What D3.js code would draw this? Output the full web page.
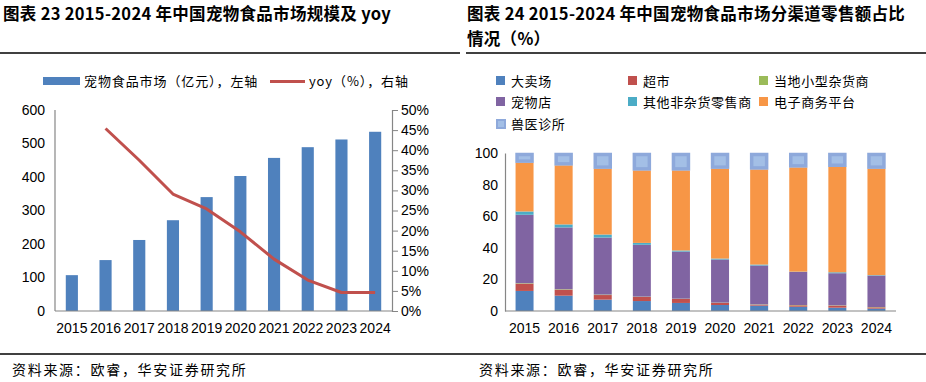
<!DOCTYPE html>
<html>
<head>
<meta charset="utf-8">
<script src="https://cdn.jsdelivr.net/npm/d3@7"></script>
<style>
  body { margin: 0; background: #fff; }
  svg { display: block; }
  .cn { font-family: "Noto Sans CJK SC", sans-serif; }
  .num { font-family: "Liberation Sans", Arial, sans-serif; }
</style>
</head>
<body>
<svg id="chart" width="926" height="382"></svg>
<script>
// ---- data ----
const years = ["2015", "2016", "2017", "2018", "2019", "2020", "2021", "2022", "2023", "2024"];
const marketSize = [107, 152, 212, 271, 340, 403, 457, 489, 512, 535];   // 亿元
const yoy = [null, 45.4, 37.5, 29.1, 25.4, 19.7, 12.9, 7.7, 4.6, 4.6];  // %
const leftTicks = [0, 100, 200, 300, 400, 500, 600];
const rightTicks = [0, 5, 10, 15, 20, 25, 30, 35, 40, 45, 50];

const channels = ["大卖场", "超市", "当地小型杂货商", "宠物店", "其他非杂货零售商", "电子商务平台", "兽医诊所"];
const hypermarket = [12.7, 9.7, 7.2, 6.3, 5.1, 3.8, 3.4, 2.7, 2.1, 1.5];
const supermarket = [4.6, 3.8, 2.9, 2.6, 2.5, 1.3, 0.6, 0.9, 1.3, 0.8];
const grocer = [0.3, 0.3, 0.3, 0.2, 0.2, 0.2, 0.2, 0.2, 0.2, 0.2];
const petShop = [43.3, 39.1, 36.1, 32.8, 29.8, 27.3, 24.6, 20.9, 20.3, 19.9];
const otherRetail = [2.1, 1.9, 1.9, 1.2, 0.7, 0.6, 0.6, 0.2, 0.6, 0.3];
const ecommerce = [30.9, 37.4, 41.7, 45.9, 50.7, 56.9, 60.2, 66.0, 66.8, 67.4];
const vetClinic = [6.1, 7.8, 9.9, 11.0, 11.0, 9.9, 10.4, 9.1, 8.7, 9.9];
const shareTicks = [0, 20, 40, 60, 80, 100];

const svg = d3.select("#chart");
const axisGrey = "#868686";

// ---- titles & rules ----
svg.append("text").attr("x", 3).attr("y", 20)
   .attr("font-size", 16.5).attr("font-weight", "bold").attr("class", "cn")
   .attr("letter-spacing", 0.3)
   .text("图表 23 2015-2024 年中国宠物食品市场规模及 yoy");
svg.append("text").attr("x", 467).attr("y", 20)
   .attr("font-size", 16.5).attr("font-weight", "bold").attr("class", "cn")
   .attr("letter-spacing", 0.3)
   .text("图表 24 2015-2024 年中国宠物食品市场分渠道零售额占比");
svg.append("text").attr("x", 467).attr("y", 45)
   .attr("font-size", 16.5).attr("font-weight", "bold").attr("class", "cn")
   .attr("letter-spacing", 0.3)
   .text("情况（%）");
svg.append("line").attr("x1", 0).attr("x2", 460).attr("y1", 53).attr("y2", 53)
   .attr("stroke", "#000").attr("stroke-width", 1.5);
svg.append("line").attr("x1", 466).attr("x2", 926).attr("y1", 53).attr("y2", 53)
   .attr("stroke", "#000").attr("stroke-width", 1.5);
svg.append("line").attr("x1", 0).attr("x2", 926).attr("y1", 354).attr("y2", 354)
   .attr("stroke", "#000").attr("stroke-width", 1.5);
[12, 479].forEach(x => {
  svg.append("text").attr("x", x).attr("y", 375).attr("class", "cn")
     .attr("font-size", 14).attr("letter-spacing", 1.7)
     .text("资料来源：欧睿，华安证券研究所");
});

// ---- left chart ----
let x1 = d3.scaleBand().domain(years).range([55, 392]).paddingInner(0.64).paddingOuter(0.32);
let yL = d3.scaleLinear().domain([0, 600]).range([311, 110]);
let yR = d3.scaleLinear().domain([0, 50]).range([311, 110]);

let left = svg.append("g");
left.append("g")
    .selectAll("rect")
    .data(marketSize)
    .enter()
    .append("rect")
    .attr("x", (d, i) => x1(years[i]))
    .attr("width", x1.bandwidth())
    .attr("y", d => yL(d))
    .attr("height", d => yL(0) - yL(d))
    .attr("fill", "#4F81BD");

let lineGen = d3.line()
    .defined(d => d != null)
    .x((d, i) => x1(years[i]) + x1.bandwidth() / 2)
    .y(d => yR(d));
left.append("path")
    .datum(yoy)
    .attr("d", lineGen)
    .attr("fill", "none")
    .attr("stroke", "#C0504D")
    .attr("stroke-width", 3)
    .attr("stroke-linejoin", "round");

// axes
let axL = left.append("g").attr("transform", "translate(55,0)")
    .call(d3.axisLeft(yL).tickValues(leftTicks).tickSize(0).tickPadding(10));
let axR = left.append("g").attr("transform", "translate(392,0)")
    .call(d3.axisRight(yR).tickValues(rightTicks).tickSize(6).tickPadding(3).tickFormat(d => d + "%"));
let axB = left.append("g").attr("transform", "translate(0,311)")
    .call(d3.axisBottom(x1).tickSize(0).tickPadding(12));
[axL, axR, axB].forEach(a => {
  a.select(".domain").attr("stroke", axisGrey).attr("stroke-width", 1.2);
  a.selectAll(".tick line").attr("stroke", axisGrey);
  a.selectAll("text").attr("class", "num").attr("font-size", 14).attr("fill", "#000");
});
axL.select(".domain").attr("d", "M0,110V311");
axB.select(".domain").attr("d", "M55,0H392");

// legend
left.append("rect").attr("x", 43).attr("y", 77).attr("width", 37).attr("height", 8).attr("fill", "#4F81BD");
left.append("text").attr("x", 84).attr("y", 86).attr("class", "cn")
    .attr("font-size", 13).attr("letter-spacing", 0.9)
    .text("宠物食品市场（亿元），左轴");
left.append("line").attr("x1", 270).attr("x2", 305).attr("y1", 81.5).attr("y2", 81.5)
    .attr("stroke", "#C0504D").attr("stroke-width", 3);
left.append("text").attr("x", 309).attr("y", 86).attr("class", "cn")
    .attr("font-size", 13).attr("letter-spacing", 0.9)
    .text("yoy（%），右轴");

// ---- right chart ----
const colors = ["#4F81BD", "#C0504D", "#9BBB59", "#8064A2", "#4BACC6", "#F79646", "#A3BFE6"];
let table = years.map((y, i) => ({
  year: y,
  "大卖场": hypermarket[i],
  "超市": supermarket[i],
  "当地小型杂货商": grocer[i],
  "宠物店": petShop[i],
  "其他非杂货零售商": otherRetail[i],
  "电子商务平台": ecommerce[i],
  "兽医诊所": vetClinic[i]
}));
let stacked = d3.stack().keys(channels)(table);

let x2 = d3.scaleBand().domain(years).range([505, 896]).paddingInner(0.54).paddingOuter(0.27);
let y2 = d3.scaleLinear().domain([0, 100]).range([311, 153]);

let right = svg.append("g");
right.selectAll("g.series")
     .data(stacked)
     .enter()
     .append("g")
     .attr("class", "series")
     .attr("fill", (d, i) => colors[i])
     .each(function(s, si) {
       let vet = si === 6;
       d3.select(this).selectAll("rect")
         .data(s)
         .enter()
         .append("rect")
         .attr("x", d => x2(d.data.year) + (vet ? 1.5 : 0))
         .attr("width", x2.bandwidth() - (vet ? 3 : 0))
         .attr("y", d => y2(d[1]) + (vet ? 1.5 : 0))
         .attr("height", d => Math.max(0, y2(d[0]) - y2(d[1]) - (vet ? 3 : 0)))
         .attr("stroke", vet ? "#8EA9DB" : "none")
         .attr("stroke-width", vet ? 3.5 : 0);
     });

let ax2L = right.append("g").attr("transform", "translate(505,0)")
    .call(d3.axisLeft(y2).tickValues(shareTicks).tickSize(0).tickPadding(7));
let ax2B = right.append("g").attr("transform", "translate(0,311)")
    .call(d3.axisBottom(x2).tickSize(0).tickPadding(12));
[ax2L, ax2B].forEach(a => {
  a.select(".domain").attr("stroke", axisGrey).attr("stroke-width", 1.2);
  a.selectAll("text").attr("class", "num").attr("font-size", 14).attr("fill", "#000");
});
ax2B.select(".domain").attr("d", "M505,0H896");

// legend (3 columns)
let legPos = [[496, 81], [628, 81], [759, 81], [496, 102], [628, 102], [759, 102], [496, 124]];
let leg = right.selectAll("g.leg")
    .data(channels)
    .enter()
    .append("g")
    .attr("class", "leg")
    .attr("transform", (d, i) => "translate(" + legPos[i][0] + "," + legPos[i][1] + ")");
leg.append("rect")
   .attr("x", (d, i) => i === 6 ? 1 : 0)
   .attr("y", (d, i) => i === 6 ? -4 : -5)
   .attr("width", (d, i) => i === 6 ? 8 : 9)
   .attr("height", (d, i) => i === 6 ? 8 : 9)
   .attr("fill", (d, i) => colors[i])
   .attr("stroke", (d, i) => i === 6 ? "#8EA9DB" : "none")
   .attr("stroke-width", 2);
leg.append("text")
   .attr("x", 15).attr("y", 4.5)
   .attr("class", "cn").attr("font-size", 13).attr("letter-spacing", 0.6)
   .text(d => d);
</script>
</body>
</html>
